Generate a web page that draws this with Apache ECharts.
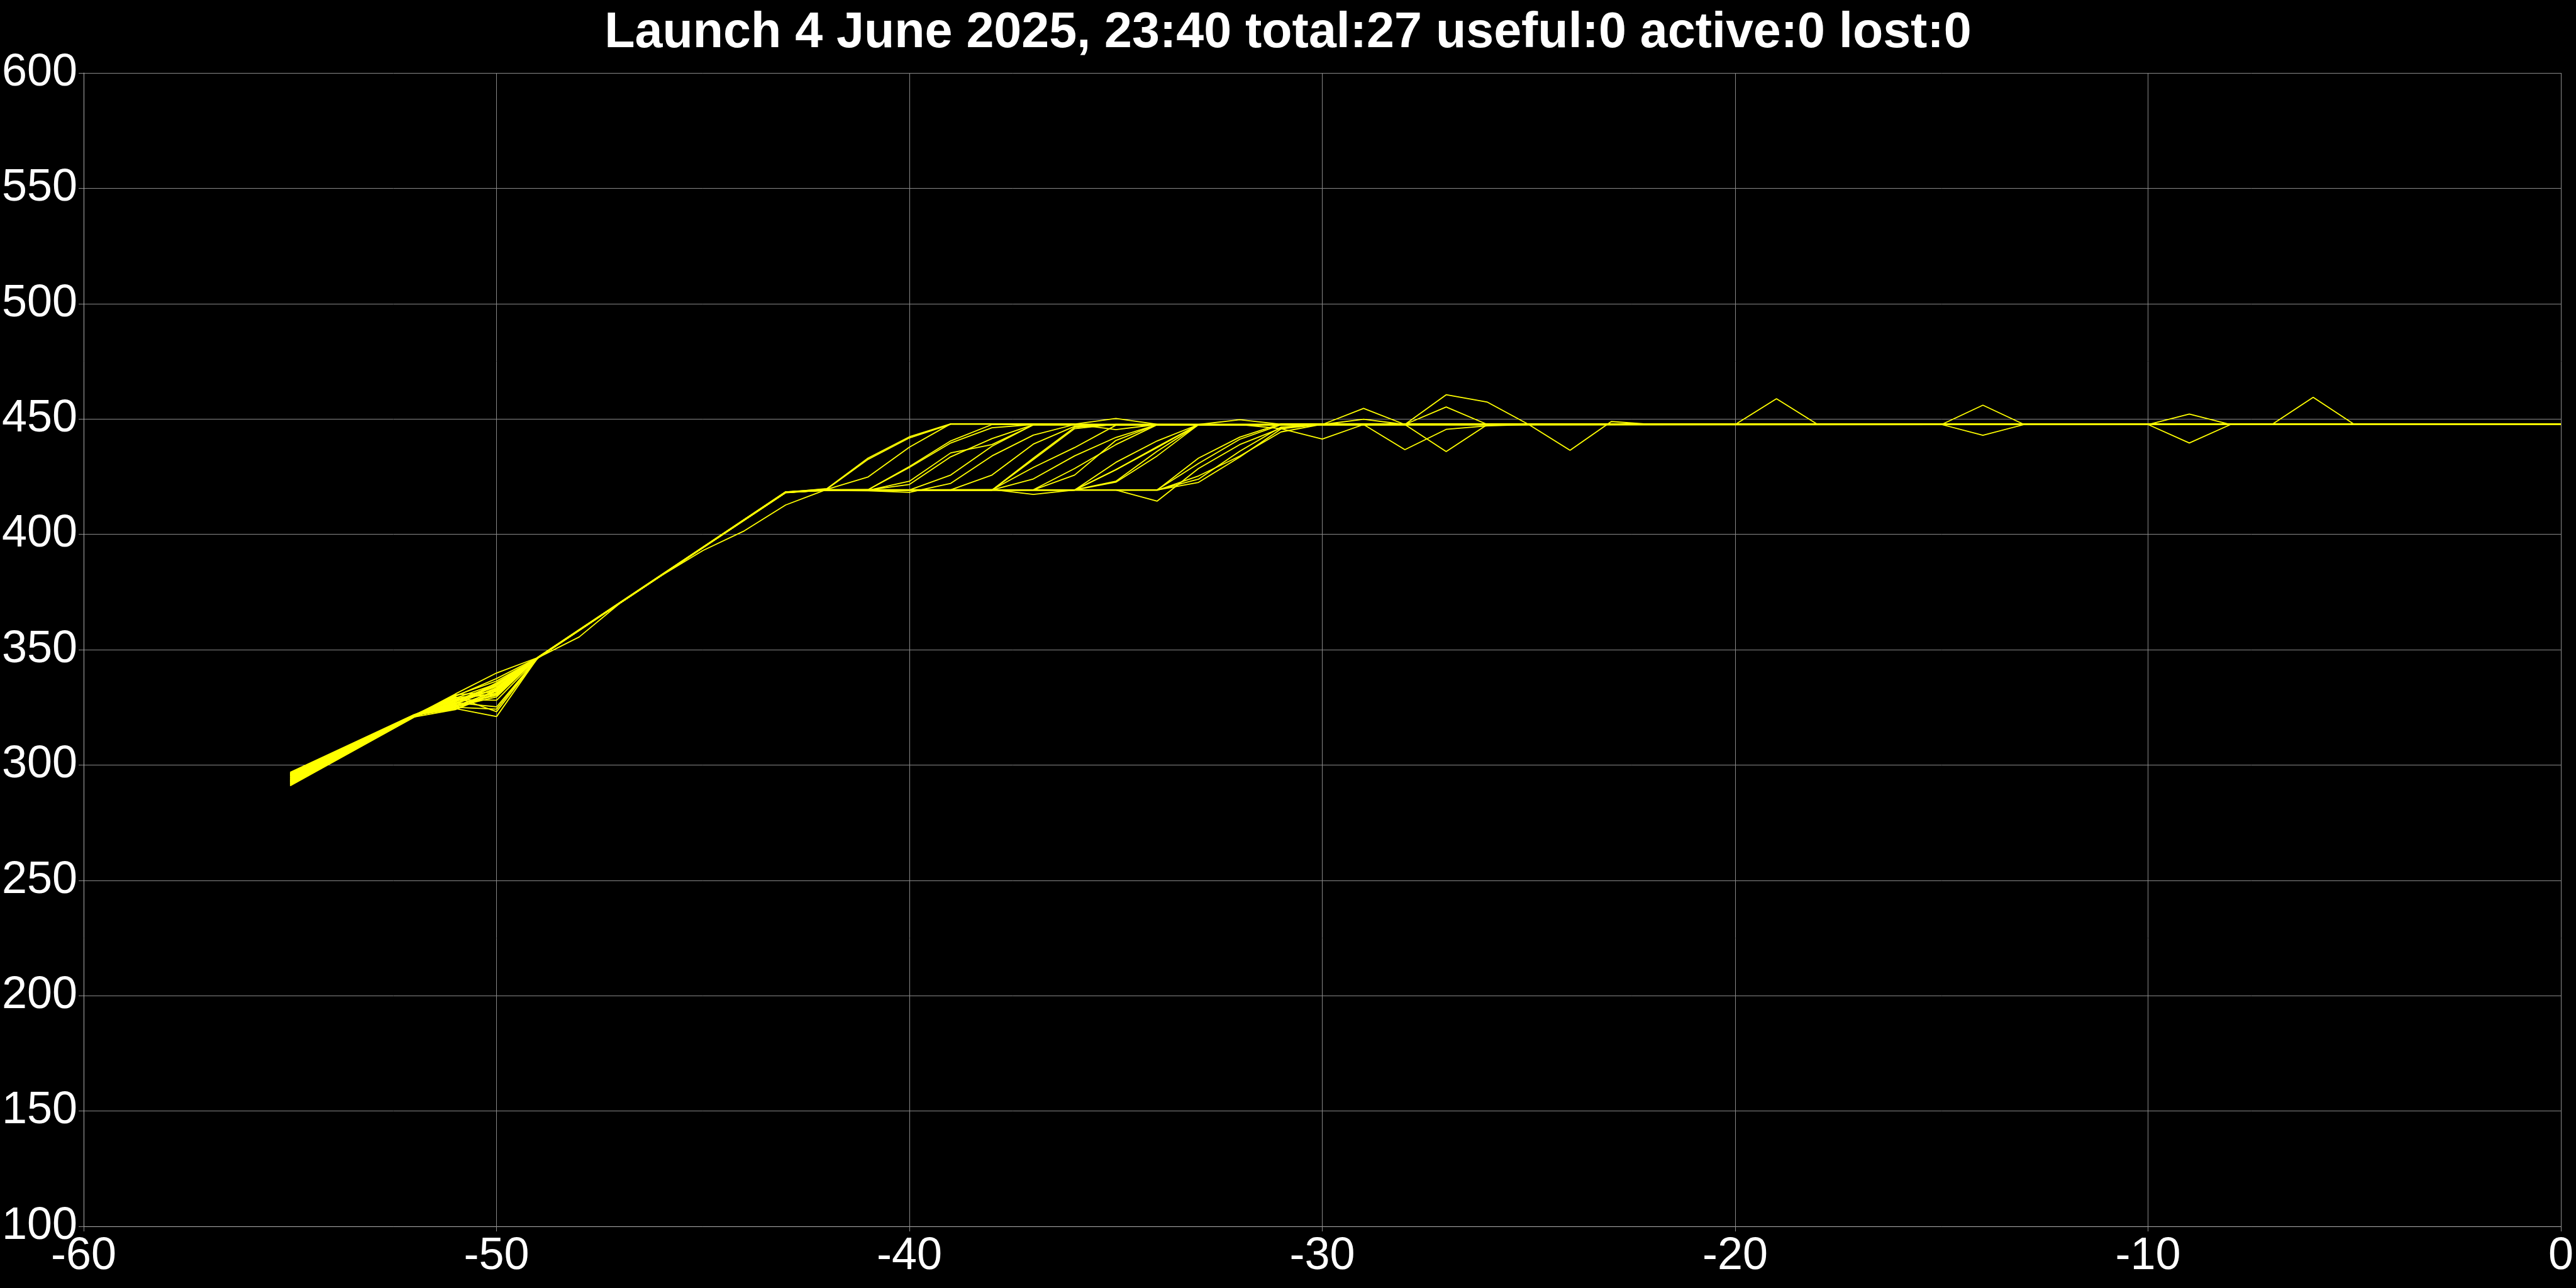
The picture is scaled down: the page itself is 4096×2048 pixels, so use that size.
<!DOCTYPE html>
<html>
<head>
<meta charset="utf-8">
<script src="https://cdn.jsdelivr.net/npm/echarts@6/dist/echarts.min.js"></script>
<style>
html,body{margin:0;padding:0;background:#000;}
#chart{width:4096px;height:2048px;}
</style>
</head>
<body>
<div id="chart"></div>
<script>
const titleText = 'Launch 4 June 2025, 23:40 total:27 useful:0 active:0 lost:0';
const xMin = -60, xMax = 0, xStep = 10;
const yMin = 100, yMax = 600, yStep = 50;

// each trajectory: [seconds, value] vertices
const s01 = [[-55,293.0],[-52,321.3],[-51,330.8],[-50,339.9],[-49,346.6],[-43,418.2],[-42,419.8],[-41,433.1],[-40,442.3],[-39,447.9],[-36,447.8],[-35,450.2],[-34,447.7],[0,447.7]];
const s02 = [[-55,296.4],[-52,321.6],[-51,330.1],[-50,336.4],[-49,346.4],[-43,418.4],[-42,419.6],[-41,432.5],[-40,441.8],[-39,447.7],[-36,447.7],[-35,445.4],[-34,447.6],[0,447.6]];
const s03 = [[-55,291.7],[-52,320.9],[-51,329.0],[-50,335.2],[-49,346.5],[-48,358.4],[-46,382.2],[-45,393.0],[-44,401.5],[-43,412.7],[-42,419.5],[-41,424.9],[-40,437.8],[-39,447.9],[-33,447.6],[-32,449.7],[-31,447.7],[0,447.7]];
const s04 = [[-55,294.8],[-52,321.4],[-51,327.6],[-50,334.0],[-49,346.5],[-43,418.1],[-42,419.2],[-41,419.4],[-40,429.4],[-39,440.5],[-38,447.6],[-32,447.6],[-31,445.8],[-30,441.3],[-29,447.6],[-28,436.7],[-27,445.5],[-26,447.0],[-25,447.6],[0,447.7]];
const s05 = [[-55,292.4],[-52,321.0],[-51,326.7],[-50,333.1],[-49,346.7],[-43,418.3],[-42,419.3],[-41,419.3],[-40,429.0],[-39,439.6],[-38,446.2],[-37,447.6],[-30,447.6],[-29,454.6],[-28,447.6],[0,447.8]];
const s06 = [[-55,295.5],[-52,321.5],[-51,325.5],[-50,332.2],[-49,346.4],[-43,418.2],[-42,419.1],[-41,419.1],[-40,423.0],[-39,435.3],[-38,438.9],[-37,447.4],[-30,447.6],[-29,449.9],[-28,447.6],[0,447.7]];
const s07 = [[-55,291.2],[-52,320.8],[-51,324.0],[-50,331.3],[-49,346.5],[-43,418.0],[-42,419.2],[-41,419.2],[-40,421.6],[-39,433.6],[-38,441.5],[-37,447.5],[-28,447.6],[-27,460.5],[-26,457.3],[-25,447.6],[0,447.7]];
const s08 = [[-55,293.9],[-52,321.2],[-51,326.0],[-50,330.1],[-49,346.6],[-43,418.2],[-42,419.2],[-40,419.2],[-39,425.7],[-38,438.2],[-37,447.5],[-28,447.6],[-27,455.2],[-26,447.6],[0,447.7]];
const s09 = [[-55,296.0],[-52,321.7],[-51,328.3],[-50,328.1],[-49,346.3],[-43,418.3],[-42,419.0],[-41,418.9],[-40,418.2],[-39,422.1],[-38,434.0],[-37,443.0],[-36,447.6],[-28,447.6],[-27,435.9],[-26,447.6],[0,447.6]];
const s10 = [[-55,292.8],[-52,321.1],[-51,327.0],[-50,325.2],[-49,346.5],[-43,418.2],[-42,419.3],[-39,419.3],[-38,425.7],[-37,439.1],[-36,446.8],[-35,447.6],[-25,447.6],[-24,436.4],[-23,448.9],[-22,447.6],[0,447.7]];
const s11 = [[-55,294.4],[-52,321.3],[-51,325.0],[-50,324.2],[-49,346.6],[-43,418.1],[-42,419.2],[-38,419.4],[-37,417.3],[-36,419.2],[-35,428.0],[-34,437.6],[-33,447.6],[0,447.7]];
const s12 = [[-55,291.5],[-52,320.9],[-51,329.5],[-50,323.1],[-49,346.4],[-43,418.3],[-42,419.2],[-38,419.2],[-37,433.0],[-36,446.4],[-35,447.6],[-20,447.6],[-19,458.8],[-18,447.6],[0,447.7]];
const s13 = [[-55,295.1],[-52,321.5],[-51,324.5],[-50,321.0],[-49,346.5],[-43,418.2],[-42,419.1],[-38,419.1],[-37,432.4],[-36,445.8],[-35,447.7],[-15,447.6],[-14,456.0],[-13,447.6],[0,447.7]];
const s14 = [[-55,293.3],[-52,321.2],[-51,326.3],[-50,333.5],[-49,346.5],[-43,418.2],[-42,419.2],[-38,419.3],[-37,429.0],[-36,437.6],[-35,447.3],[-15,447.6],[-14,442.9],[-13,447.6],[0,447.7]];
const s15 = [[-55,296.8],[-52,321.8],[-51,328.0],[-50,332.7],[-49,346.7],[-43,418.4],[-42,419.4],[-38,419.2],[-37,424.0],[-36,434.0],[-35,442.0],[-34,447.6],[-10,447.6],[-9,452.1],[-8,447.6],[0,447.8]];
const s16 = [[-55,292.1],[-52,321.0],[-51,330.4],[-50,331.8],[-49,346.5],[-43,418.2],[-42,419.2],[-37,419.2],[-36,425.7],[-35,440.7],[-34,447.6],[-10,447.6],[-9,439.6],[-8,447.6],[0,447.7]];
const s17 = [[-55,294.6],[-52,321.4],[-51,325.8],[-50,330.6],[-49,346.4],[-43,418.3],[-42,419.3],[-37,419.3],[-36,428.5],[-35,438.9],[-34,447.5],[-7,447.6],[-6,459.4],[-5,447.6],[0,447.7]];
const s18 = [[-55,291.9],[-52,321.1],[-51,327.3],[-50,334.5],[-49,346.6],[-43,418.2],[-42,419.2],[-36,419.2],[-35,431.2],[-34,440.5],[-33,447.6],[0,447.7]];
const s19 = [[-55,295.7],[-52,321.6],[-51,324.2],[-50,332.0],[-49,346.5],[-43,418.1],[-42,419.1],[-36,419.1],[-35,428.0],[-34,438.0],[-33,447.6],[0,447.6]];
const s20 = [[-55,293.5],[-52,321.2],[-51,329.2],[-50,330.9],[-49,346.5],[-48,355.5],[-47,370.3],[-43,418.2],[-42,419.3],[-36,419.3],[-35,423.0],[-34,436.0],[-33,447.5],[0,447.7]];
const s21 = [[-55,292.6],[-52,321.0],[-51,326.9],[-50,333.0],[-49,346.4],[-43,418.3],[-42,419.2],[-36,419.2],[-35,422.6],[-34,434.0],[-33,447.5],[0,447.7]];
const s22 = [[-55,296.2],[-52,321.7],[-51,325.2],[-50,329.5],[-49,346.6],[-43,418.2],[-42,419.2],[-34,419.2],[-33,433.0],[-32,442.1],[-31,447.9],[0,447.7]];
const s23 = [[-55,294.2],[-52,321.3],[-51,328.6],[-50,331.0],[-49,346.5],[-43,418.2],[-42,419.3],[-34,419.3],[-33,430.7],[-32,441.2],[-31,447.5],[0,447.7]];
const s24 = [[-55,291.0],[-52,320.7],[-51,327.9],[-50,334.8],[-49,346.5],[-43,418.1],[-42,419.2],[-35,419.2],[-34,414.4],[-33,428.5],[-32,438.9],[-31,446.0],[-30,447.7],[0,447.7]];
const s25 = [[-55,295.3],[-52,321.5],[-51,324.8],[-50,332.5],[-49,346.4],[-43,418.2],[-42,419.1],[-34,419.1],[-33,425.3],[-32,433.9],[-31,444.4],[-30,447.7],[0,447.6]];
const s26 = [[-55,293.7],[-52,321.2],[-51,326.5],[-50,335.7],[-49,346.5],[-43,418.3],[-42,419.2],[-34,419.2],[-33,422.5],[-32,433.5],[-31,445.7],[-30,447.7],[0,447.7]];
const s27 = [[-55,292.9],[-52,321.1],[-51,329.8],[-50,337.5],[-49,346.6],[-43,418.2],[-42,419.2],[-34,419.2],[-33,423.9],[-32,436.0],[-31,446.5],[-30,447.7],[0,447.7]];

const tracks = [s01,s02,s03,s04,s05,s06,s07,s08,s09,s10,s11,s12,s13,s14,s15,s16,s17,s18,s19,s20,s21,s22,s23,s24,s25,s26,s27];

const chart = echarts.init(document.getElementById('chart'), null, {renderer:'canvas'});
const font = 'Liberation Sans, Arial, Helvetica, sans-serif';
chart.setOption({
  backgroundColor: '#000000',
  animation: false,
  title: {
    text: titleText, left: 'center', top: 9,
    textStyle: {color:'#ffffff', fontSize:79, fontWeight:'bold', fontFamily:font}
  },
  grid: {left:130, right:24, top:116, bottom:98, containLabel:false},
  xAxis: {
    type:'value', min:xMin, max:xMax, interval:xStep,
    axisLine:{show:true, lineStyle:{color:'#b0b0b0', width:1}},
    axisTick:{show:true, length:8, lineStyle:{color:'#909090', width:1}},
    splitLine:{show:true, lineStyle:{color:'#8a8a8a', width:1}},
    axisLabel:{color:'#ffffff', fontSize:72, fontFamily:font, margin:12}
  },
  yAxis: {
    type:'value', min:yMin, max:yMax, interval:yStep,
    axisLine:{show:true, onZero:false, lineStyle:{color:'#b0b0b0', width:1}},
    axisTick:{show:true, length:8, lineStyle:{color:'#909090', width:1}},
    splitLine:{show:true, lineStyle:{color:'#8a8a8a', width:1}},
    axisLabel:{color:'#ffffff', fontSize:72, fontFamily:font, margin:10, padding:[0,0,16,0]}
  },
  series: tracks.map((d, i) => ({
    type:'line', name:'t'+(i+1), data:d, symbol:'none', showSymbol:false,
    silent:true, clip:true,
    lineStyle:{color:'#ffff00', width:1.8}
  }))
});
</script>
</body>
</html>
